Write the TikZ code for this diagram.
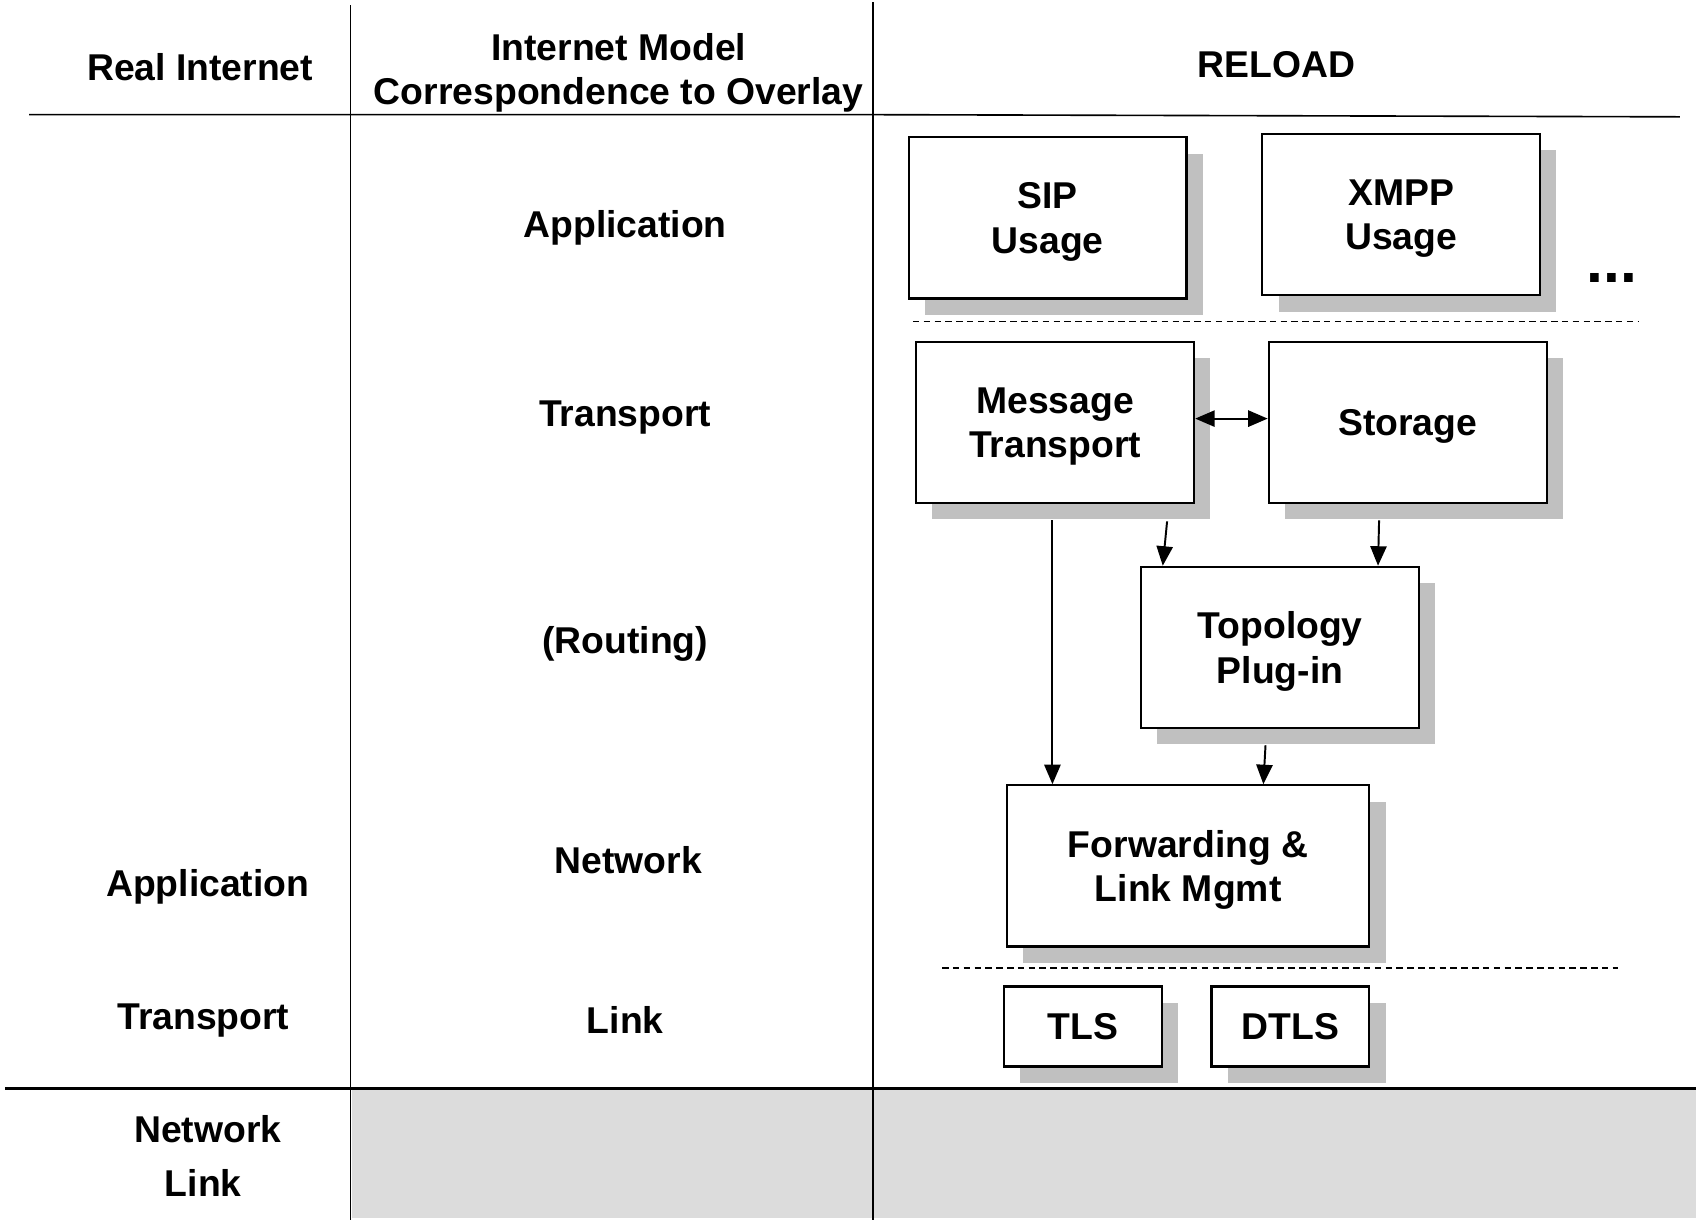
\documentclass[tikz,border=0pt]{standalone}
\usepackage{fontspec}
\setmainfont{Liberation Sans}
\usetikzlibrary{shadows,arrows.meta}
\definecolor{shgray}{HTML}{C0C0C0}
\definecolor{bandgray}{HTML}{DCDCDC}
\begin{document}
\begin{tikzpicture}[x=1pt,y=-1pt,
  txt/.style={font=\fontsize{34.5}{41}\selectfont\bfseries, align=center, inner sep=0pt, text depth=0pt},
  box/.style={txt, draw, line width=2pt, fill=white, minimum width=257pt, minimum height=149pt,
    general shadow={fill=shgray, shadow xshift=15pt, shadow yshift=-15pt}},
  rulel/.style={line width=1.5pt},
  sepl/.style={line width=1.3pt, dash pattern=on 6pt off 4pt},
  arr/.style={line width=1.8pt, -{Triangle[length=18pt,width=15pt]}},
  dbl/.style={line width=1.8pt, {Triangle[length=18pt,width=15pt]}-{Triangle[length=18pt,width=15pt]}}]
\useasboundingbox (0,0) rectangle (1568,1128);
\fill[white] (0,0) rectangle (1568,1128);
% bottom band
\fill[bandgray] (325,1007) rectangle (1568,1126);
% table rules
\draw[rulel] (324,5) -- (324,1128);
\draw[rulel] (807,2) -- (807,1128);
\draw[rulel] (27,106) -- (807,106) -- (1553,108);
\draw[line width=3pt] (5,1006) -- (1568,1006);
% headers
\node[txt] (h1) at (185,62) {Real Internet};
\node[txt] (h2) at (572,64) {Internet Model\\Correspondence to Overlay};
\node[txt] (h3) at (1180,60) {RELOAD};
% middle column
\node[txt] (m1) at (578,207) {Application};
\node[txt] (m2) at (578,382) {Transport};
\node[txt] (m3) at (578,592) {(Routing)};
\node[txt] (m4) at (581,795) {Network};
\node[txt] (m5) at (578,943) {Link};
% left column
\node[txt] (l1) at (192,816) {Application};
\node[txt] (l2) at (188,940) {Transport};
\node[txt] (l3) at (192,1044) {Network};
\node[txt] (l4) at (188,1094) {Link};
% separators
\draw[sepl] (844,297) -- (1515,297);
\draw[sepl] (871,895) -- (1496,895);
% boxes
\node[box] (sip) at (968.5,201.5) {SIP\\Usage};
\node[box] (xmpp) at (1295.5,198.5) {XMPP\\Usage};
\node[txt, font=\fontsize{56}{60}\selectfont\bfseries] (dots) at (1490,257) {...};
\node[box] (mt) at (975.5,390.5) {Message\\Transport};
\node[box] (st) at (1301.5,390.5) {Storage};
\node[box] (topo) at (1183.5,598.5) {Topology\\Plug-in};
\node[box, minimum width=335pt] (fw) at (1098.5,800.5) {Forwarding \&\\Link Mgmt};
\node[box, minimum width=146pt, minimum height=74pt] (tls) at (1001,949) {TLS};
\node[box, minimum width=146pt, minimum height=74pt] (dtls) at (1193,949) {DTLS};
% connectors
\draw[dbl] ([yshift=3.5pt]mt.east) -- ([yshift=3.5pt]st.west);
\draw[arr] ([xshift=-2.5pt,yshift=-15pt]mt.south) -- ([xshift=-2.5pt]mt.south |- fw.north);
\draw[arr] ([xshift=-26pt,yshift=-16pt]mt.south east) -- ([xshift=21pt]topo.north west);
\draw[arr] ([xshift=-26.5pt,yshift=-15pt]st.south) -- ([xshift=-39pt]topo.north east);
\draw[arr] ([xshift=-13.5pt,yshift=-15pt]topo.south) -- ([xshift=69.5pt]fw.north);
\end{tikzpicture}
\end{document}
